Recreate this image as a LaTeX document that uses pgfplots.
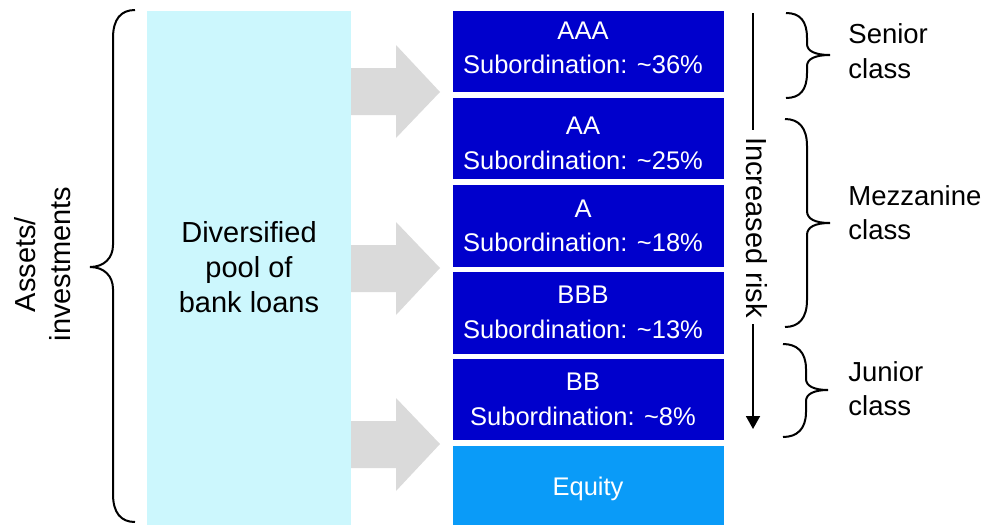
\documentclass[border=0pt]{standalone}
\usepackage{pgfplots}
\pgfplotsset{compat=1.18}
\usepackage{fontspec}
\setmainfont{Liberation Sans}
\usetikzlibrary{arrows.meta}
\definecolor{tranche}{HTML}{0000CC}
\definecolor{equity}{HTML}{0A9BF8}
\definecolor{pool}{HTML}{CCF7FD}
\definecolor{arrowgray}{HTML}{DADADA}
\begin{document}
\begin{tikzpicture}
\begin{axis}[
  scale only axis, width=495pt, height=262.5pt,
  xmin=0, xmax=990, ymin=0, ymax=525, y dir=reverse,
  hide axis, clip=false]
\path (axis cs:0,0) rectangle (axis cs:990,525);
% pool of loans
\addplot[fill=pool, draw=none] coordinates {(147,11) (351,11) (351,525) (147,525)} --cycle;
% gray arrows
\addplot[fill=arrowgray, draw=none] coordinates {(351,68) (396,68) (396,45) (440,92) (396,138) (396,115) (351,115)} --cycle;
\addplot[fill=arrowgray, draw=none] coordinates {(351,245) (396,245) (396,222) (440,268) (396,315) (396,292) (351,292)} --cycle;
\addplot[fill=arrowgray, draw=none] coordinates {(351,421) (396,421) (396,398) (440,444) (396,491) (396,468) (351,468)} --cycle;
% tranches
\addplot[fill=tranche, draw=none] coordinates {(453,11) (724,11) (724,92) (453,92)} --cycle;
\addplot[fill=tranche, draw=none] coordinates {(453,98) (724,98) (724,179) (453,179)} --cycle;
\addplot[fill=tranche, draw=none] coordinates {(453,185) (724,185) (724,267) (453,267)} --cycle;
\addplot[fill=tranche, draw=none] coordinates {(453,272) (724,272) (724,354) (453,354)} --cycle;
\addplot[fill=tranche, draw=none] coordinates {(453,359) (724,359) (724,440) (453,440)} --cycle;
\addplot[fill=equity, draw=none] coordinates {(453,446) (724,446) (724,525) (453,525)} --cycle;
% risk arrow
\addplot[black, line width=0.9pt] coordinates {(753,13) (753,130)};
\addplot[black, line width=0.9pt, -{Triangle[width=7pt,length=6.5pt]}] coordinates {(753,324) (753,429)};
% tranche texts
\begin{scope}[every node/.style={font=\fontsize{12.75pt}{15pt}\selectfont, text=white, anchor=base, inner sep=0pt}]
\node at (axis cs:583,39) {AAA};
\node at (axis cs:583,73) {Subordination: \textasciitilde36\%};
\node at (axis cs:583,134) {AA};
\node at (axis cs:583,169) {Subordination: \textasciitilde25\%};
\node at (axis cs:583,217) {A};
\node at (axis cs:583,251) {Subordination: \textasciitilde18\%};
\node at (axis cs:583,303) {BBB};
\node at (axis cs:583,338) {Subordination: \textasciitilde13\%};
\node at (axis cs:583,390) {BB};
\node at (axis cs:583,425) {Subordination: \textasciitilde8\%};
\node at (axis cs:588,495) {Equity};
\end{scope}
% left texts
\begin{scope}[every node/.style={font=\fontsize{14.5pt}{17.5pt}\selectfont, text=black, anchor=base, inner sep=0pt}]
\node at (axis cs:249,242) {Diversified};
\node at (axis cs:249,277) {pool of};
\node at (axis cs:249,312) {bank loans};
\node[rotate=90] at (axis cs:35,264.5) {Assets/};
\node[rotate=90] at (axis cs:70,264) {investments};
\node[rotate=-90] at (axis cs:746,227.5) {Increased risk};
\end{scope}
% right labels
\begin{scope}[every node/.style={font=\fontsize{13.75pt}{17pt}\selectfont, text=black, anchor=base west, inner sep=0pt}]
\node at (axis cs:848,43.5) {Senior};
\node at (axis cs:848,78.5) {class};
\node at (axis cs:848,205) {Mezzanine};
\node at (axis cs:848,239) {class};
\node at (axis cs:848,381) {Junior};
\node at (axis cs:848,415) {class};
\end{scope}
% braces
\draw[black, line width=1pt] (axis cs:786,13) .. controls (axis cs:800,13) and (axis cs:807,21) .. (axis cs:807,38) -- (axis cs:807,44) .. controls (axis cs:807,51) and (axis cs:815,55) .. (axis cs:830,55) .. controls (axis cs:815,55) and (axis cs:807,59) .. (axis cs:807,66) -- (axis cs:807,73) .. controls (axis cs:807,90) and (axis cs:800,98) .. (axis cs:786,98);
\draw[black, line width=1pt] (axis cs:785,119) .. controls (axis cs:799,119) and (axis cs:807,128) .. (axis cs:807,146) -- (axis cs:807,211) .. controls (axis cs:807,219) and (axis cs:815,223) .. (axis cs:830,223) .. controls (axis cs:815,223) and (axis cs:807,227) .. (axis cs:807,235) -- (axis cs:807,300) .. controls (axis cs:807,318) and (axis cs:799,327) .. (axis cs:785,327);
\draw[black, line width=1pt] (axis cs:783,344) .. controls (axis cs:797,344) and (axis cs:806,352) .. (axis cs:806,369) -- (axis cs:806,379) .. controls (axis cs:806,386) and (axis cs:814,390) .. (axis cs:828,390) .. controls (axis cs:814,390) and (axis cs:806,394) .. (axis cs:806,401) -- (axis cs:806,412) .. controls (axis cs:806,429) and (axis cs:797,437) .. (axis cs:783,437);
\draw[black, line width=1pt] (axis cs:135,10) .. controls (axis cs:121,10) and (axis cs:113,19) .. (axis cs:113,38) -- (axis cs:113,245) .. controls (axis cs:113,258) and (axis cs:104,267) .. (axis cs:90,267) .. controls (axis cs:104,267) and (axis cs:113,276) .. (axis cs:113,289) -- (axis cs:113,494) .. controls (axis cs:113,513) and (axis cs:121,522) .. (axis cs:135,522);
\end{axis}
\end{tikzpicture}
\end{document}
